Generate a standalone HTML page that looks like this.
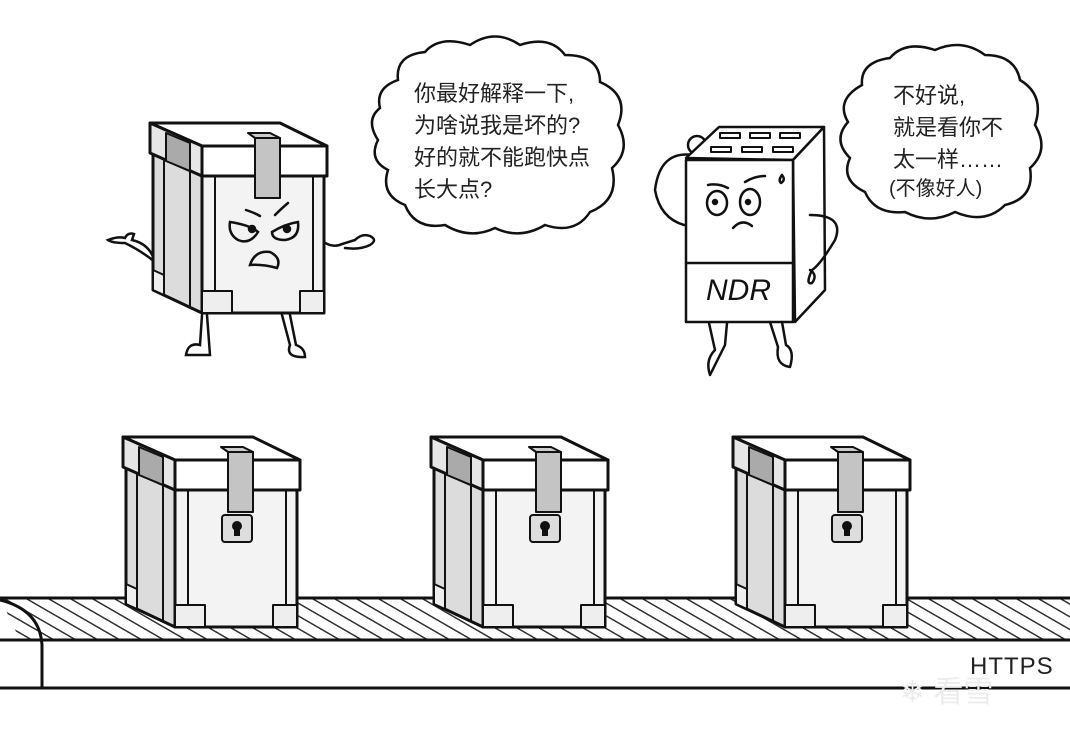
<!DOCTYPE html>
<html><head><meta charset="utf-8"><style>
html,body{margin:0;padding:0;background:#fff;width:1070px;height:741px;overflow:hidden}
svg{display:block}
text{font-family:"Liberation Sans","Noto Sans CJK SC",sans-serif;fill:#222}
</style></head><body>
<svg width="1070" height="741" viewBox="0 0 1070 741" xmlns="http://www.w3.org/2000/svg">
<defs>
<pattern id="st" width="22" height="42" patternUnits="userSpaceOnUse" patternTransform="skewX(60)">
<rect width="22" height="42" fill="#fff"/><rect x="0" width="3" height="42" fill="#333"/>
</pattern>
<g id="box" stroke="#111" stroke-width="3" stroke-linejoin="round">
<polygon points="3,30 52,53 52,190 3,167" fill="#dcdcdc"/>
<line x1="14" y1="36" x2="14" y2="170" stroke-width="2"/>
<line x1="40" y1="48" x2="40" y2="184" stroke-width="2"/>
<polygon points="52,53 174,53 174,190 52,190" fill="#f3f3f3"/>
<line x1="65" y1="53" x2="65" y2="190" stroke-width="2"/>
<line x1="163" y1="53" x2="163" y2="190" stroke-width="2"/>
<polygon points="0,0 130,0 177,23 52,23" fill="#fff"/>
<polygon points="0,0 52,23 52,53 0,30" fill="#e6e6e6"/>
<polygon points="52,23 177,23 177,53 52,53" fill="#fff"/>
<polygon points="16,10 40,20 40,48 16,38" fill="#aaa" stroke-width="2"/>
<polygon points="105,15 130,15 130,75 105,75" fill="#c4c4c4" stroke-width="2"/>
<polygon points="98,10 120,10 130,15 105,15" fill="#ccc" stroke-width="2"/>
<rect x="52" y="168" width="30" height="22" fill="#eee" stroke-width="2"/>
<rect x="150" y="168" width="24" height="22" fill="#eee" stroke-width="2"/>
<polygon points="3,147 14,152 14,172 3,167" fill="#eee" stroke-width="2"/>
</g>
<g id="lock" stroke="#111" stroke-width="2">
<rect x="0" y="0" width="30" height="27" rx="3" fill="#ddd"/>
<circle cx="15" cy="11" r="4" fill="#111"/><rect x="13" y="12" width="4" height="8" fill="#111"/>
</g>
</defs>

<!-- conveyor -->
<path d="M0,598 L1070,598 L1070,640 L20,640 Z" fill="url(#st)"/>
<line x1="0" y1="598" x2="1070" y2="598" stroke="#111" stroke-width="3"/>
<path d="M0,640 L1070,640" stroke="#111" stroke-width="3"/>
<path d="M0,688 L1070,688" stroke="#111" stroke-width="3"/>
<path d="M0,600 Q40,610 42,645 L42,688" fill="none" stroke="#111" stroke-width="3"/>
<text x="970" y="674" font-size="24" letter-spacing="1">HTTPS</text>
<text x="900" y="702" font-size="30" style="fill:#ececec">❄ 看雪</text>

<!-- boxes on conveyor -->
<use href="#box" x="123" y="437"/><use href="#lock" x="222" y="515"/>
<use href="#box" x="431" y="437"/><use href="#lock" x="530" y="515"/>
<use href="#box" x="733" y="437"/><use href="#lock" x="832" y="515"/>

<!-- left character -->
<g fill="none" stroke="#111" stroke-width="2.5" stroke-linecap="round">
<path d="M155,262 L178,245 L177,225"/>
<path d="M155,262 Q140,250 125,243 Q112,243 108,240 Q118,236 125,238 Q128,232 134,234 L132,240 Q150,244 155,262"/>
<path d="M315,235 Q330,250 342,244 L355,240 Q362,233 370,236 Q378,240 370,245 Q360,250 345,248"/>
<path d="M202,315 L200,345 Q188,342 186,355 L210,355 L207,315"/>
<path d="M282,315 L290,345 Q285,358 305,357 Q305,348 296,345 L290,315"/>
</g>
<use href="#box" x="150" y="123"/>
<g fill="none" stroke="#111" stroke-width="2.5" stroke-linecap="round">
<path d="M246,210 Q255,213 260,216 M275,215 Q282,208 288,203"/>
<path d="M230,222 Q250,225 258,232 Q250,245 238,240 Q228,234 230,222 Z"/>
<path d="M272,232 Q285,224 298,222 Q300,238 285,240 Q272,240 272,232 Z"/>
<circle cx="252" cy="229" r="3" fill="#111"/><circle cx="287" cy="229" r="3" fill="#111"/>
<path d="M250,265 Q255,250 270,252 Q282,258 277,268 Q262,264 250,265 Z"/>
</g>

<!-- NDR character -->
<g fill="none" stroke="#111" stroke-width="2.5" stroke-linecap="round" stroke-linejoin="round">
<path d="M693,155 Q660,150 655,190 Q660,218 684,225"/>
<circle cx="697" cy="145" r="9" fill="#fff"/>
<polygon points="686,158 719,127 824,127 793,160" fill="#fff"/>
<polygon points="793,160 824,127 825,290 795,322" fill="#fff"/>
<rect x="686" y="160" width="107" height="162" fill="#fff"/>
<line x1="686" y1="263" x2="793" y2="263"/>
<g stroke-width="2"><rect x="720" y="133" width="20" height="5"/><rect x="750" y="133" width="20" height="5"/><rect x="780" y="133" width="20" height="5"/>
<rect x="711" y="147" width="20" height="5"/><rect x="742" y="147" width="20" height="5"/><rect x="773" y="147" width="20" height="5"/></g>
<path d="M708,185 Q718,183 728,188 M745,182 Q755,176 765,176"/>
<ellipse cx="717" cy="203" rx="10" ry="12"/><ellipse cx="750" cy="202" rx="10" ry="13"/>
<circle cx="715" cy="202" r="2" fill="#111"/><circle cx="748" cy="202" r="2" fill="#111"/>
<path d="M733,228 Q742,218 752,226"/>
<path d="M782,175 Q778,180 781,183 Q786,180 782,175"/>
<path d="M810,215 Q845,215 835,240 Q820,265 812,270 Q805,285 812,283 Q818,275 810,270"/>
<path d="M709,323 L715,350 Q705,360 710,375 L725,345 L727,323"/>
<path d="M770,322 L778,347 Q775,365 790,367 Q795,350 786,345 L782,322"/>
</g>
<text x="706" y="300" font-size="30" font-style="italic" style="font-family:'Liberation Sans',sans-serif;fill:#111">NDR</text>

<!-- bubbles -->
<path d="M398,80 Q395,55 425,52 Q440,35 470,45 Q495,28 520,45 Q550,35 565,55 Q600,55 600,82 Q630,95 618,125 Q632,150 612,168 Q620,200 590,212 Q575,235 545,225 Q520,240 495,228 Q470,240 445,225 Q415,230 405,205 Q380,195 388,170 Q368,160 378,140 Q365,120 380,108 Q375,88 398,80 Z" fill="#fff" stroke="#111" stroke-width="2.5"/>
<path d="M862,85 Q860,62 890,58 Q905,40 935,50 Q962,38 985,55 Q1015,55 1020,80 Q1045,95 1035,125 Q1050,150 1030,168 Q1035,198 1005,205 Q985,225 955,212 Q930,225 905,212 Q875,215 865,192 Q840,180 850,158 Q832,140 848,122 Q835,100 862,85 Z" fill="#fff" stroke="#111" stroke-width="2.5"/>
<g font-size="22">
<text x="414" y="101">你最好解释一下,</text>
<text x="414" y="133">为啥说我是坏的?</text>
<text x="414" y="165">好的就不能跑快点</text>
<text x="414" y="197">长大点?</text>
<text x="893" y="103">不好说,</text>
<text x="893" y="135">就是看你不</text>
<text x="893" y="167">太一样……</text>
<text x="889" y="195" font-size="20">(不像好人)</text>
</g>
</svg>
</body></html>
